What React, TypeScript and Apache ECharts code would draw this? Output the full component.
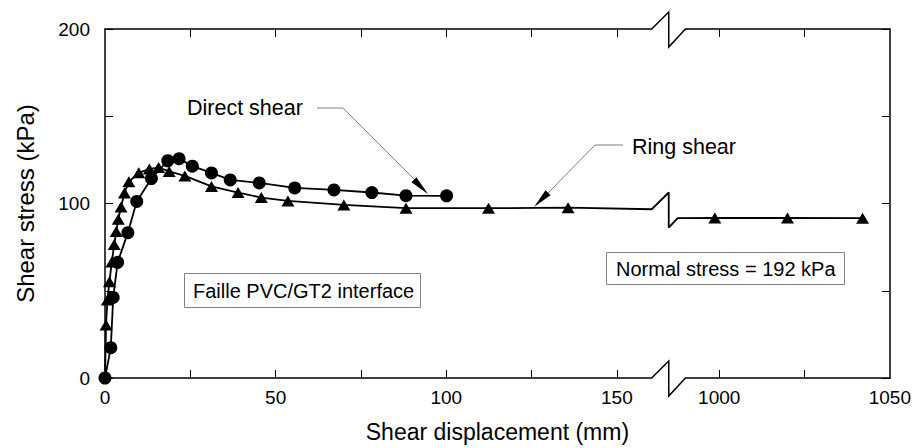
import React, { useEffect, useRef } from "react";
import * as echarts from "echarts";

// Shear displacement (mm), shear stress (kPa)
const directShear: [number, number][] = [
  [0, 0], [1.7, 17.4], [2.4, 46.2], [3.7, 66.3], [6.7, 83.3], [9.3, 101.2],
  [13.6, 114.3], [18.4, 124.5], [21.7, 125.7], [25.6, 121.4], [31.2, 117.5],
  [36.7, 113.5], [45.2, 111.8], [55.6, 108.9], [67.1, 107.8], [78.2, 106.3],
  [88.2, 104.5], [100.1, 104.4],
];

const ringShearLeft: [number, number][] = [
  [0, 0], [0.3, 30.4], [0.7, 44.7], [1.3, 55.2], [2.0, 66.5], [2.7, 76.5],
  [3.3, 84], [3.9, 91], [4.7, 98], [5.7, 106], [7.0, 112.4], [9.9, 117.6],
  [13.0, 119.8], [15.7, 120.6], [18.8, 118.4], [23.4, 115.8], [31.2, 109.8],
  [39.0, 106.3], [45.8, 103.4], [53.6, 101.5], [70.0, 99.2], [88.2, 97.3],
  [112.4, 97.3], [135.7, 97.6],
];

// line continuation and break zig-zag of the ring-shear curve (axis units)
const ringShearBreak: [number, number][] = [
  [160.2, 96.7], [165.2, 106.3], [165.2, 86.2], [167.8, 91.6],
];

// long-displacement ring shear readings (true mm)
const ringShearRight: [number, number][] = [
  [998.7, 91.7], [1020, 91.7], [1042, 91.6],
];

const BREAK_OFFSET = 820; // axis value = displacement - offset, beyond the break
const BREAK_START = 160.2;
const BREAK_MID = 165.2;
const BREAK_END = 170.1;

const xTickValues = [25, 50, 75, 100, 125, 150, 180, 205];
const xLabelValues = [0, 50, 100, 150, 180, 230];
const yLabelValues = [0, 100, 200];

const FONT = "Liberation Sans, Arial, Helvetica, sans-serif";

function arrow(x1: number, y1: number, x2: number, y2: number, len = 20, hw = 3.5) {
  const dx = x2 - x1;
  const dy = y2 - y1;
  const d = Math.hypot(dx, dy);
  const ux = dx / d;
  const uy = dy / d;
  const bx = x2 - ux * len;
  const by = y2 - uy * len;
  return {
    type: "polygon",
    shape: {
      points: [
        [x2, y2],
        [bx - uy * hw, by + ux * hw],
        [bx + uy * hw, by - ux * hw],
      ],
    },
    style: { fill: "#000" },
    z: 20,
  };
}

export default function App() {
  const ref = useRef<HTMLDivElement>(null);

  useEffect(() => {
    if (!ref.current) return;
    const chart = echarts.init(ref.current, undefined, { renderer: "svg" });

    const ringData: any[] = [
      ...ringShearLeft.map((p, i) => (i === 0 ? { value: p, symbol: "none" } : p)),
      ...ringShearBreak.map((p) => ({ value: p, symbol: "none" })),
      ...ringShearRight.map((p) => [p[0] - BREAK_OFFSET, p[1]]),
    ];

    const axisCommon = {
      type: "value",
      axisLine: { show: true, onZero: false, lineStyle: { color: "#000", width: 1.5 } },
      splitLine: { show: false },
    };

    const tick = { show: true, inside: true, length: 8, lineStyle: { color: "#000", width: 1 } };

    chart.setOption({
      animation: false,
      backgroundColor: "#fff",
      textStyle: { fontFamily: FONT },
      grid: { left: 105, right: 22, top: 29, bottom: 70 },
      xAxis: [
        {
          ...axisCommon,
          position: "bottom",
          min: 0,
          max: 230,
          axisTick: { ...tick, customValues: xTickValues },
          axisLabel: {
            show: true,
            customValues: xLabelValues,
            margin: 10,
            color: "#000",
            fontSize: 19,
            fontFamily: FONT,
            formatter: (v: number) => String(v > BREAK_START ? v + BREAK_OFFSET : v),
          },
          name: "Shear displacement (mm)",
          nameLocation: "middle",
          nameGap: 42,
          nameTextStyle: { color: "#000", fontSize: 23, fontFamily: FONT },
        },
        {
          ...axisCommon,
          position: "top",
          min: 0,
          max: 230,
          axisTick: { ...tick, customValues: xTickValues },
          axisLabel: { show: false },
        },
      ],
      yAxis: [
        {
          ...axisCommon,
          position: "left",
          min: 0,
          max: 200,
          interval: 50,
          axisTick: tick,
          axisLabel: {
            show: true,
            customValues: yLabelValues,
            margin: 15,
            color: "#000",
            fontSize: 19,
            fontFamily: FONT,
          },
          name: "Shear stress (kPa)",
          nameLocation: "middle",
          nameGap: 68,
          nameTextStyle: { color: "#000", fontSize: 24, fontFamily: FONT },
        },
        {
          ...axisCommon,
          position: "right",
          min: 0,
          max: 200,
          interval: 50,
          axisTick: tick,
          axisLabel: { show: false },
        },
      ],
      series: [
        {
          name: "Ring shear",
          type: "line",
          data: ringData,
          symbol: "triangle",
          symbolSize: [13, 11],
          lineStyle: { color: "#000", width: 1.8 },
          itemStyle: { color: "#000" },
          z: 3,
        },
        {
          name: "Direct shear",
          type: "line",
          data: directShear,
          symbol: "circle",
          symbolSize: 13,
          lineStyle: { color: "#000", width: 1.8 },
          itemStyle: { color: "#000" },
          z: 4,
        },
      ],
    });

    // axis-break marks and annotations
    const pTop0 = chart.convertToPixel({ gridIndex: 0 }, [BREAK_START, 200]) as number[];
    const pMid = chart.convertToPixel({ gridIndex: 0 }, [BREAK_MID, 200]) as number[];
    const pEnd = chart.convertToPixel({ gridIndex: 0 }, [BREAK_END, 0]) as number[];
    const x0 = pTop0[0];
    const xm = pMid[0];
    const x1 = pEnd[0];
    const yTop = pTop0[1];
    const yBot = pEnd[1];

    const breakMark = (y: number) => [
      {
        type: "rect",
        shape: { x: x0 + 0.5, y: y - 3, width: x1 - x0 - 1, height: 6 },
        style: { fill: "#fff" },
        z: 10,
      },
      {
        type: "polyline",
        shape: { points: [[x0, y], [xm, y - 17], [xm, y + 18], [x1, y]] },
        style: { stroke: "#000", lineWidth: 1.5, fill: null },
        z: 11,
      },
    ];

    const label = (text: string, x: number, y: number, size: number) => ({
      type: "text",
      x,
      y,
      style: {
        text,
        fill: "#000",
        font: `${size}px ${FONT}`,
        textVerticalAlign: "middle",
        verticalAlign: "middle",
      },
      z: 20,
    });

    const callout = (pts: number[][]) => ({
      type: "polyline",
      shape: { points: pts },
      style: { stroke: "#808080", lineWidth: 1, fill: null },
      z: 19,
    });

    chart.setOption({
      graphic: [
        ...breakMark(yTop),
        ...breakMark(yBot),
        label("Direct shear", 187, 108, 21.5),
        callout([[317, 108], [343, 108], [416, 181]]),
        arrow(343, 108, 428, 194),
        label("Ring shear", 632, 147, 21.5),
        callout([[623, 145], [595, 145], [548, 193]]),
        arrow(595, 145, 534, 207),
        {
          type: "rect",
          shape: { x: 184.5, y: 273.5, width: 236, height: 34 },
          style: { fill: "#fff", stroke: "#808080", lineWidth: 1 },
          z: 18,
        },
        label("Faille PVC/GT2 interface", 193, 291, 20),
        {
          type: "rect",
          shape: { x: 606.5, y: 252.5, width: 238, height: 32 },
          style: { fill: "#fff", stroke: "#808080", lineWidth: 1 },
          z: 18,
        },
        label("Normal stress = 192 kPa", 616, 269, 20),
      ],
    });

    return () => chart.dispose();
  }, []);

  return (
    <div
      ref={ref}
      style={{ position: "fixed", left: 0, top: 0, width: 914, height: 448 }}
    />
  );
}
